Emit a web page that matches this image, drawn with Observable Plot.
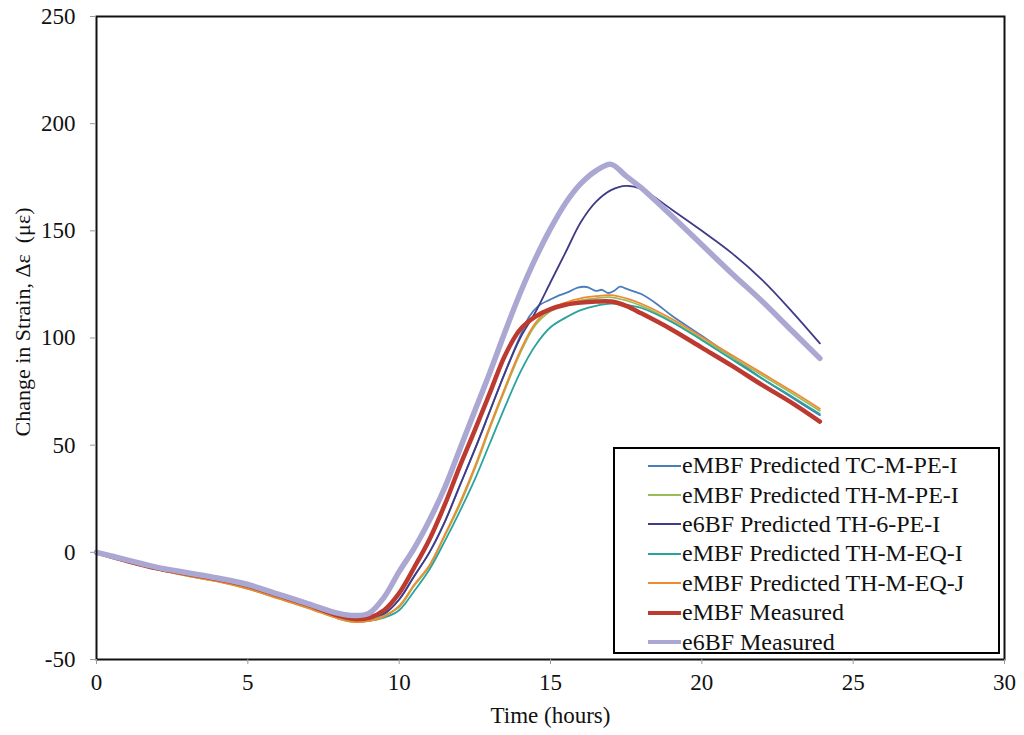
<!DOCTYPE html>
<html>
<head>
<meta charset="utf-8">
<script src="https://cdn.jsdelivr.net/npm/d3@7"></script>
<script src="https://cdn.jsdelivr.net/npm/@observablehq/plot@0.6"></script>
<style>
  html, body { margin: 0; padding: 0; background: #fff; }
  #wrap { position: relative; width: 1024px; height: 735px; font-family: "Liberation Serif", "Times New Roman", serif; }
  #legend {
    position: absolute; left: 613px; top: 447px; width: 387px; height: 207px;
    border: 2px solid #000; background: #fff; box-sizing: border-box;
    padding-top: 2px;
  }
  .row { display: flex; align-items: center; height: 29.4px; font-size: 24px; color: #111; white-space: nowrap; }
  .sw { width: 33px; margin-left: 33px; margin-right: 1px; }
</style>
</head>
<body>
<div id="wrap"></div>
<script>
// Time grid (hours) shared by most series
const hours = [0,1,2,3,4,5,6,7,8,8.5,9,9.5,10,10.5,11,11.5,12,12.5,13,13.5,14,14.5,15,15.5,16,16.5,17,17.5,18,19,20,21,22,23,23.9];

// TC-M-PE-I prediction is sampled more densely around its noisy peak
const hoursTC = [0,1,2,3,4,5,6,7,8,8.5,9,9.5,10,10.5,11,11.5,12,12.5,13,13.5,14,14.3,14.6,15,15.3,15.6,15.9,16.2,16.5,16.7,16.9,17.1,17.3,17.5,17.8,18,18.5,19,20,21,22,23,23.9];
const predTCMPEI = [0,-4,-7.5,-10.5,-13,-16,-20.5,-25,-30,-31.5,-31.5,-29,-22,-11,0,14,31,48,66,84,101,110,115,118,120,121.5,123.5,123.8,122,122.5,121,122,124,123,121.5,120.5,116,110.5,101,91,81,72,64];

// Change in strain (microstrain) on the shared grid
const predTHMPEI  = [0,-4.5,-8,-11,-13.5,-17,-21.5,-26,-31,-32.5,-32,-29.5,-25.5,-15.5,-6.5,7.5,22,39,58,76,93,106,112.5,115.5,117.5,118.5,119,117.5,115,108,99.5,91,82.5,74,66];
const predTH6PEI  = [0,-4,-7.5,-10.5,-13,-16,-20.5,-25,-30,-31,-30.5,-28.5,-22,-11,0,14,31,48,66,84,100,112,126,140,154,163.5,169,171,169.5,160,150,139.5,127,112,97.5];
const predTHMEQI  = [0,-4,-8,-10.5,-13,-16.5,-21,-25.5,-30.5,-32,-32,-30.5,-27,-18,-8,5,19,34,51,68,84,96.5,105,109.5,113,115,116,115.5,114,107.5,99,90,81,72.5,64.5];
const predTHMEQJ  = [0,-4.5,-8,-11,-13.5,-17,-21.5,-26,-31,-32.5,-32,-30,-25,-15,-6,8,23,40,59,77,94,107,113.5,116.5,118.5,119.5,120,118.5,116,109,100.5,92,83.5,75,67];
const measMBF     = [0,-4,-7.5,-10,-12.5,-15.5,-20,-24.5,-29.5,-31,-30.5,-27,-19,-7,6,22,40,57,74.5,92,104,110,113.5,115.5,116.5,117,117,115,111.5,104,95.5,87,78,69.5,61];
const meas6BF     = [0,-3.5,-7,-9.5,-12,-15,-19.5,-24,-28.5,-29.5,-28.5,-21,-9,2,15,30,48,66,84,103,121,137,151,163,172,178,181,175.5,170,157,143.5,130,117,103,90.5];

const seriesNames = [
  "eMBF Predicted TC-M-PE-I",
  "eMBF Predicted TH-M-PE-I",
  "e6BF Predicted TH-6-PE-I",
  "eMBF Predicted TH-M-EQ-I",
  "eMBF Predicted TH-M-EQ-J",
  "eMBF Measured",
  "e6BF Measured"
];
const seriesColors = ["#4a7ebb", "#9bbb59", "#3f3b86", "#2aa3a0", "#f08a32", "#bd3a30", "#aaa8d2"];
const seriesWidths = [1.8, 1.8, 1.8, 1.8, 1.8, 4.5, 5.5];

const xTicks = [0, 5, 10, 15, 20, 25, 30];
const yTicks = [-50, 0, 50, 100, 150, 200, 250];
const xTitle = "Time (hours)";
const yTitle = "Change in Strain, Δε  (με)";

const toRows = (xs, ys) => xs.map((t, i) => ({t, v: ys[i]}));
const seriesData = [
  toRows(hoursTC, predTCMPEI),
  toRows(hours, predTHMPEI),
  toRows(hours, predTH6PEI),
  toRows(hours, predTHMEQI),
  toRows(hours, predTHMEQJ),
  toRows(hours, measMBF),
  toRows(hours, meas6BF)
];

const lineMarks = seriesData.map((rows, i) =>
  Plot.line(rows, {
    x: "t", y: "v",
    stroke: seriesColors[i],
    strokeWidth: seriesWidths[i],
    curve: "catmull-rom",
    strokeLinejoin: "round",
    strokeLinecap: "round"
  })
);

const plain = d => String(d);

const chart = Plot.plot({
  width: 1024,
  height: 735,
  marginLeft: 96,
  marginRight: 20,
  marginTop: 16,
  marginBottom: 76,
  style: {fontFamily: "'Liberation Serif', 'Times New Roman', serif", fontSize: "23px", background: "#fff", color: "#111"},
  x: {domain: [0, 30]},
  y: {domain: [-50, 250]},
  marks: [
    ...lineMarks,
    Plot.frame({stroke: "#111", strokeWidth: 2}),
    Plot.axisX({
      ticks: xTicks, tickFormat: plain, tickSize: 5, tickPadding: 9, stroke: "#999",
      label: xTitle, labelAnchor: "center", labelArrow: "none", labelOffset: 63,
      fontSize: 23
    }),
    Plot.axisY({
      ticks: yTicks, tickFormat: plain, tickSize: 6, tickPadding: 15, stroke: "#999",
      label: null, fontSize: 23
    }),
    // vertical axis title, set slightly above the frame's middle
    Plot.text([yTitle], {
      frameAnchor: "left", rotate: -90, dx: -74, dy: -16,
      fontSize: 22, textAnchor: "middle", fill: "#111"
    })
  ]
});

const wrap = document.getElementById("wrap");
wrap.appendChild(chart);

// Legend box drawn over the lower-right corner of the plot
const legend = document.createElement("div");
legend.id = "legend";
seriesNames.forEach((name, i) => {
  const row = document.createElement("div");
  row.className = "row";
  const sw = document.createElement("div");
  sw.className = "sw";
  sw.style.height = Math.max(2, Math.round(seriesWidths[i] * 0.8)) + "px";
  sw.style.background = seriesColors[i];
  const label = document.createElement("span");
  label.textContent = name;
  row.appendChild(sw);
  row.appendChild(label);
  legend.appendChild(row);
});
wrap.appendChild(legend);
</script>
</body>
</html>
